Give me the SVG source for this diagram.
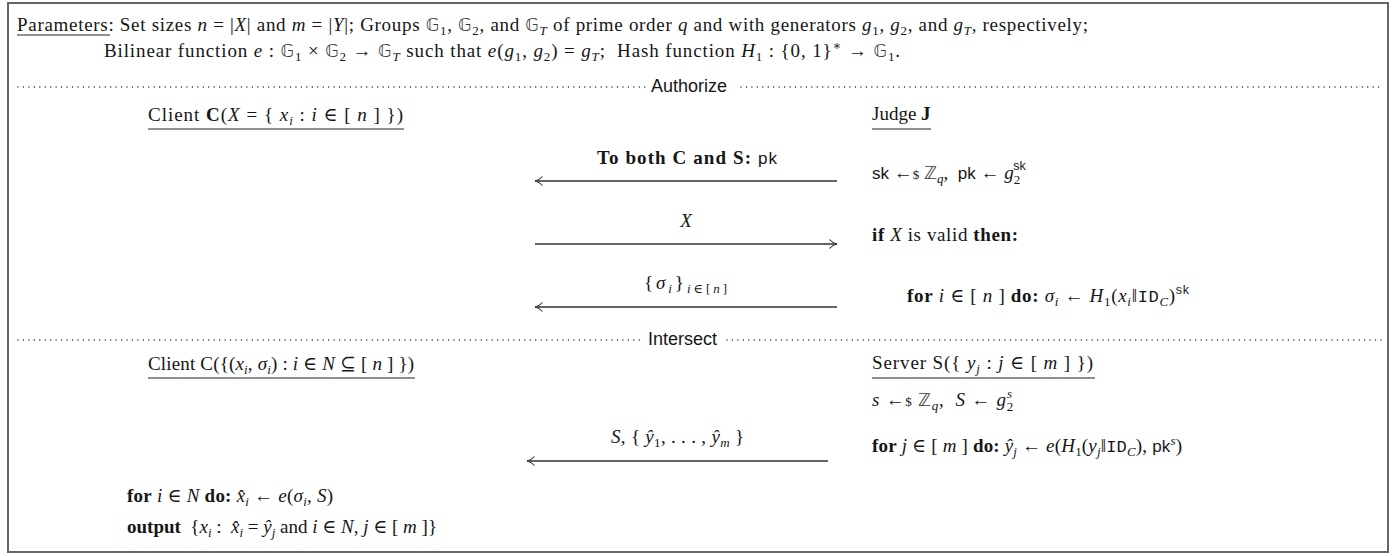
<svg xmlns="http://www.w3.org/2000/svg" width="1396" height="556" viewBox="0 0 1396 556">
<style>
text{font-family:"Liberation Serif","DejaVu Serif",serif;font-size:19px;fill:#161616}
.i{font-style:italic}
.b{font-weight:bold}
.sf{font-family:"Liberation Sans","DejaVu Sans",sans-serif;font-size:17px;font-style:normal}
.sfs{font-family:"Liberation Sans","DejaVu Sans",sans-serif;font-size:12.5px;font-style:normal}
.tt{font-family:"Liberation Mono","DejaVu Sans Mono",monospace;font-size:17px}
.bb{font-family:"DejaVu Sans","Noto Sans",sans-serif;font-size:17.5px;fill:#3a3a3a}
.cal{font-family:"Liberation Serif",serif;font-style:italic}
.sub{font-size:13px}
.lbl{font-family:"Liberation Sans","DejaVu Sans",sans-serif;font-size:18px}
.dots{stroke:#222;stroke-width:1.4;stroke-linecap:round;stroke-dasharray:0 5.45;fill:none}
.ul{stroke:#222;stroke-width:1.2}
.arr{stroke:#333;stroke-width:1.3;fill:none;marker-end:url(#ah)}
</style>
<defs>
<marker id="ah" viewBox="0 0 10 10" refX="9.5" refY="5" markerWidth="10" markerHeight="10" markerUnits="userSpaceOnUse" orient="auto">
<path d="M2 0.5 Q5 4 9.5 5 Q5 6 2 9.5" fill="none" stroke="#333" stroke-width="1.1"/>
</marker>
</defs>
<rect x="8" y="3" width="1380" height="549" fill="#fff" stroke="#666" stroke-width="2"/>

<g id="params">
<text x="17" y="31" textLength="1071" lengthAdjust="spacing" xml:space="preserve">Parameters: Set sizes <tspan class="i">n</tspan> = |<tspan class="cal">X</tspan>| and <tspan class="i">m</tspan> = |<tspan class="cal">Y</tspan>|; Groups <tspan class="bb">𝔾</tspan><tspan class="sub" baseline-shift="-4">1</tspan>, <tspan class="bb">𝔾</tspan><tspan class="sub" baseline-shift="-4">2</tspan>, and <tspan class="bb">𝔾</tspan><tspan class="sub i" baseline-shift="-4">T</tspan> of prime order <tspan class="i">q</tspan> and with generators <tspan class="i">g</tspan><tspan class="sub" baseline-shift="-4">1</tspan>, <tspan class="i">g</tspan><tspan class="sub" baseline-shift="-4">2</tspan>, and <tspan class="i">g</tspan><tspan class="sub i" baseline-shift="-4">T</tspan>, respectively;</text>
<line class="ul" x1="17" y1="35" x2="110" y2="35"/>
<text x="104" y="57" textLength="796" lengthAdjust="spacing" xml:space="preserve">Bilinear function <tspan class="i">e</tspan> : <tspan class="bb">𝔾</tspan><tspan class="sub" baseline-shift="-4">1</tspan> × <tspan class="bb">𝔾</tspan><tspan class="sub" baseline-shift="-4">2</tspan> → <tspan class="bb">𝔾</tspan><tspan class="sub i" baseline-shift="-4">T</tspan> such that <tspan class="i">e</tspan>(<tspan class="i">g</tspan><tspan class="sub" baseline-shift="-4">1</tspan>, <tspan class="i">g</tspan><tspan class="sub" baseline-shift="-4">2</tspan>) = <tspan class="i">g</tspan><tspan class="sub i" baseline-shift="-4">T</tspan>;  Hash function <tspan class="i">H</tspan><tspan class="sub" baseline-shift="-4">1</tspan> : {0, 1}<tspan class="sub" baseline-shift="7">∗</tspan> → <tspan class="bb">𝔾</tspan><tspan class="sub" baseline-shift="-4">1</tspan>.</text>
</g>

<g id="sections">
<line class="dots" x1="18" y1="87" x2="646" y2="87"/>
<text class="lbl" x="651" y="92">Authorize</text>
<line class="dots" x1="741" y1="87" x2="1381" y2="87"/>
<line class="dots" x1="18" y1="340" x2="643" y2="340"/>
<text class="lbl" x="648" y="345">Intersect</text>
<line class="dots" x1="727" y1="340" x2="1381" y2="340"/>
</g>

<g id="client-authorize">
<text x="148" y="121" textLength="255" lengthAdjust="spacing" xml:space="preserve">Client <tspan class="b">C</tspan>(<tspan class="cal">X</tspan> = { <tspan class="i">x</tspan><tspan class="sub i" baseline-shift="-4">i</tspan> : <tspan class="i">i</tspan> ∈ [ <tspan class="i">n</tspan> ] })</text>
<line class="ul" x1="148" y1="129" x2="404" y2="129"/>
</g>

<g id="judge">
<text x="872" y="120" xml:space="preserve">Judge <tspan class="b">J</tspan></text>
<line class="ul" x1="872" y1="129" x2="931" y2="129"/>
<text x="872" y="179" xml:space="preserve"><tspan class="sf">sk</tspan> ←<tspan class="sub">$</tspan> <tspan class="bb">ℤ</tspan><tspan class="sub i" baseline-shift="-4">q</tspan>,  <tspan class="sf">pk</tspan> ← <tspan class="i">g</tspan><tspan class="sub" baseline-shift="-5">2</tspan><tspan class="sfs" dx="-7" baseline-shift="9">sk</tspan></text>
<text x="872" y="241" textLength="146" lengthAdjust="spacing" xml:space="preserve"><tspan class="b">if</tspan> <tspan class="cal">X</tspan> is valid <tspan class="b">then:</tspan></text>
<text x="907" y="302" textLength="282" lengthAdjust="spacing" xml:space="preserve"><tspan class="b">for</tspan> <tspan class="i">i</tspan> ∈ [ <tspan class="i">n</tspan> ] <tspan class="b">do:</tspan> <tspan class="i">σ</tspan><tspan class="sub i" baseline-shift="-4">i</tspan> ← <tspan class="i">H</tspan><tspan class="sub" baseline-shift="-4">1</tspan>(<tspan class="i">x</tspan><tspan class="sub i" baseline-shift="-4">i</tspan>‖<tspan class="tt">ID</tspan><tspan class="sub i" baseline-shift="-4">C</tspan>)<tspan class="sfs" baseline-shift="8">sk</tspan></text>
</g>

<g id="client-intersect">
<text x="148" y="370" textLength="266" lengthAdjust="spacing" xml:space="preserve">Client C({(<tspan class="i">x</tspan><tspan class="sub i" baseline-shift="-4">i</tspan>, <tspan class="i">σ</tspan><tspan class="sub i" baseline-shift="-4">i</tspan>) : <tspan class="i">i</tspan> ∈ <tspan class="cal">N</tspan> ⊆ [ <tspan class="i">n</tspan> ] })</text>
<line class="ul" x1="148" y1="378" x2="415" y2="378"/>
<text x="127" y="502" textLength="206" lengthAdjust="spacing" xml:space="preserve"><tspan class="b">for</tspan> <tspan class="i">i</tspan> ∈ <tspan class="cal">N</tspan> <tspan class="b">do:</tspan> <tspan class="i">x̂</tspan><tspan class="sub i" baseline-shift="-4">i</tspan> ← <tspan class="i">e</tspan>(<tspan class="i">σ</tspan><tspan class="sub i" baseline-shift="-4">i</tspan>, <tspan class="i">S</tspan>)</text>
<text x="127" y="533" textLength="310" lengthAdjust="spacing" xml:space="preserve"><tspan class="b">output</tspan>  {<tspan class="i">x</tspan><tspan class="sub i" baseline-shift="-4">i</tspan> :  <tspan class="i">x̂</tspan><tspan class="sub i" baseline-shift="-4">i</tspan> = <tspan class="i">ŷ</tspan><tspan class="sub i" baseline-shift="-4">j</tspan> and <tspan class="i">i</tspan> ∈ <tspan class="cal">N</tspan>, <tspan class="i">j</tspan> ∈ [ <tspan class="i">m</tspan> ]}</text>
</g>

<g id="server">
<text x="872" y="369" textLength="221" lengthAdjust="spacing" xml:space="preserve">Server S({ <tspan class="i">y</tspan><tspan class="sub i" baseline-shift="-4">j</tspan> : <tspan class="i">j</tspan> ∈ [ <tspan class="i">m</tspan> ] })</text>
<line class="ul" x1="872" y1="378" x2="1095" y2="378"/>
<text x="872" y="406" textLength="142" lengthAdjust="spacing" xml:space="preserve"><tspan class="i">s</tspan> ←<tspan class="sub">$</tspan> <tspan class="bb">ℤ</tspan><tspan class="sub i" baseline-shift="-4">q</tspan>,  <tspan class="i">S</tspan> ← <tspan class="i">g</tspan><tspan class="sub" baseline-shift="-5">2</tspan><tspan class="sub i" dx="-7" baseline-shift="8">s</tspan></text>
<text x="872" y="452" textLength="310" lengthAdjust="spacing" xml:space="preserve"><tspan class="b">for</tspan> <tspan class="i">j</tspan> ∈ [ <tspan class="i">m</tspan> ] <tspan class="b">do:</tspan> <tspan class="i">ŷ</tspan><tspan class="sub i" baseline-shift="-4">j</tspan> ← <tspan class="i">e</tspan>(<tspan class="i">H</tspan><tspan class="sub" baseline-shift="-4">1</tspan>(<tspan class="i">y</tspan><tspan class="sub i" baseline-shift="-4">j</tspan>‖<tspan class="tt">ID</tspan><tspan class="sub i" baseline-shift="-4">C</tspan>), <tspan class="sf">pk</tspan><tspan class="sub i" baseline-shift="7">s</tspan>)</text>
</g>

<g id="connectors">
<line class="arr" x1="837" y1="181" x2="535" y2="181"/>
<text x="597" y="164" textLength="180" lengthAdjust="spacing" xml:space="preserve"><tspan class="b">To both C and S:</tspan> <tspan class="sf">pk</tspan></text>
<line class="arr" x1="535" y1="244" x2="837" y2="244"/>
<text x="686" y="227" text-anchor="middle"><tspan class="cal">X</tspan></text>
<line class="arr" x1="837" y1="307" x2="535" y2="307"/>
<text x="644" y="289" textLength="83" lengthAdjust="spacing">{<tspan class="i">σ</tspan><tspan class="sub i" baseline-shift="-4">i</tspan>}<tspan class="sub i" baseline-shift="-4">i</tspan><tspan class="sub" baseline-shift="-4">∈[</tspan><tspan class="sub i" baseline-shift="-4">n</tspan><tspan class="sub" baseline-shift="-4">]</tspan></text>
<line class="arr" x1="828" y1="461" x2="527" y2="461"/>
<text x="611" y="443" textLength="133" lengthAdjust="spacing" xml:space="preserve"><tspan class="i">S</tspan>, { <tspan class="i">ŷ</tspan><tspan class="sub" baseline-shift="-4">1</tspan>, . . . , <tspan class="i">ŷ</tspan><tspan class="sub i" baseline-shift="-4">m</tspan> }</text>
</g>
</svg>
